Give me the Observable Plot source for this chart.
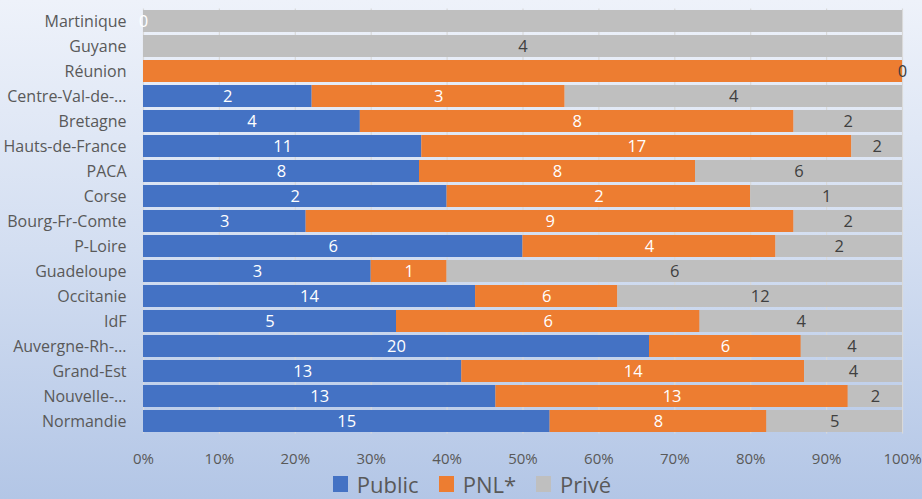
<!DOCTYPE html>
<html>
<head>
<meta charset="utf-8">
<script src="https://cdn.jsdelivr.net/npm/d3@7"></script>
<script src="https://cdn.jsdelivr.net/npm/@observablehq/plot@0.6"></script>
<style>
  html, body { margin: 0; padding: 0; }
  #wrap {
    width: 922px; height: 499px; overflow: hidden;
    background: linear-gradient(to bottom, #eef2fa 0%, #d3def1 50%, #b3c6e6 100%);
    font-family: "Open Sans", sans-serif;
  }
  #chart svg { display: block; }
  #legend {
    display: flex; justify-content: center; align-items: flex-end;
    height: 31px; font-size: 22px; line-height: normal; color: #595959; padding-left: 22px;
  }
  #legend .item { display: flex; align-items: center; margin: 0 10px; }
  #legend .sw { width: 15px; height: 16px; margin-right: 9px; }
</style>
</head>
<body>
<div id="wrap">
  <div id="chart"></div>
  <div id="legend"></div>
</div>
<script>
const categories = ["Martinique","Guyane","Réunion","Centre-Val-de-…","Bretagne","Hauts-de-France","PACA","Corse","Bourg-Fr-Comte","P-Loire","Guadeloupe","Occitanie","IdF","Auvergne-Rh-…","Grand-Est","Nouvelle-…","Normandie"];
const publicValues = [0,0,0,2,4,11,8,2,3,6,3,14,5,20,13,13,15];
const pnlValues    = [0,0,1,3,8,17,8,2,9,4,1,6,6,6,14,13,8];
const priveValues  = [1,4,0,4,2,2,6,1,2,2,6,12,4,4,4,2,5];
const publicLabels = ["0",null,null,"2","4","11","8","2","3","6","3","14","5","20","13","13","15"];
const pnlLabels    = [null,null,null,"3","8","17","8","2","9","4","1","6","6","6","14","13","8"];
const priveLabels  = [null,"4","0","4","2","2","6","1","2","2","6","12","4","4","4","2","5"];
const series = ["Public","PNL*","Privé"];
const seriesColors = ["#4472C4","#ED7D31","#BFBFBF"];
const xTicks = [0,0.1,0.2,0.3,0.4,0.5,0.6,0.7,0.8,0.9,1];
const xTickLabels = ["0%","10%","20%","30%","40%","50%","60%","70%","80%","90%","100%"];

const valuesBySeries = [publicValues, pnlValues, priveValues];
const labelsBySeries = [publicLabels, pnlLabels, priveLabels];
const data = [];
categories.forEach((cat, i) => {
  series.forEach((s, j) => {
    data.push({cat, series: s, value: valuesBySeries[j][i], label: labelsBySeries[j][i]});
  });
});

const H = 468;
const chart = Plot.plot({
  width: 922,
  height: H,
  marginLeft: 143,
  marginRight: 20,
  marginTop: 8.5,
  marginBottom: H - 433.5,
  style: {background: "transparent", fontFamily: "'Open Sans', sans-serif", fontSize: "16px", color: "#595959"},
  x: {domain: [0, 1], axis: null, label: null},
  y: {domain: categories, paddingInner: 0.12, paddingOuter: 0.06, tickSize: 0, tickPadding: 17, label: null},
  color: {domain: series, range: seriesColors},
  marks: [
    Plot.ruleX(xTicks, {stroke: "#d9d9d9", strokeWidth: 1.2}),
    Plot.axisX({ticks: xTicks, tickFormat: d => xTickLabels[xTicks.findIndex(t => Math.abs(t - d) < 1e-9)],
      tickSize: 0, tickPadding: 19, fontSize: 15, label: null}),
    Plot.barX(data, Plot.stackX({x: "value", y: "cat", fill: "series", z: "series", offset: "normalize", order: series})),
    Plot.textX(data, Plot.stackX({x: "value", y: "cat", z: "series", offset: "normalize", order: series,
      text: d => d.series !== "Privé" ? d.label : null, fill: "white", fontSize: 16.5})),
    Plot.textX(data, Plot.stackX({x: "value", y: "cat", z: "series", offset: "normalize", order: series,
      text: d => d.series === "Privé" ? d.label : null, fill: "#404040", fontSize: 16.5}))
  ]
});
document.getElementById("chart").appendChild(chart);

const legend = document.getElementById("legend");
series.forEach((s, j) => {
  const item = document.createElement("div");
  item.className = "item";
  const sw = document.createElement("span");
  sw.className = "sw";
  sw.style.background = seriesColors[j];
  const t = document.createElement("span");
  t.textContent = s;
  item.appendChild(sw);
  item.appendChild(t);
  legend.appendChild(item);
});
</script>
</body>
</html>
